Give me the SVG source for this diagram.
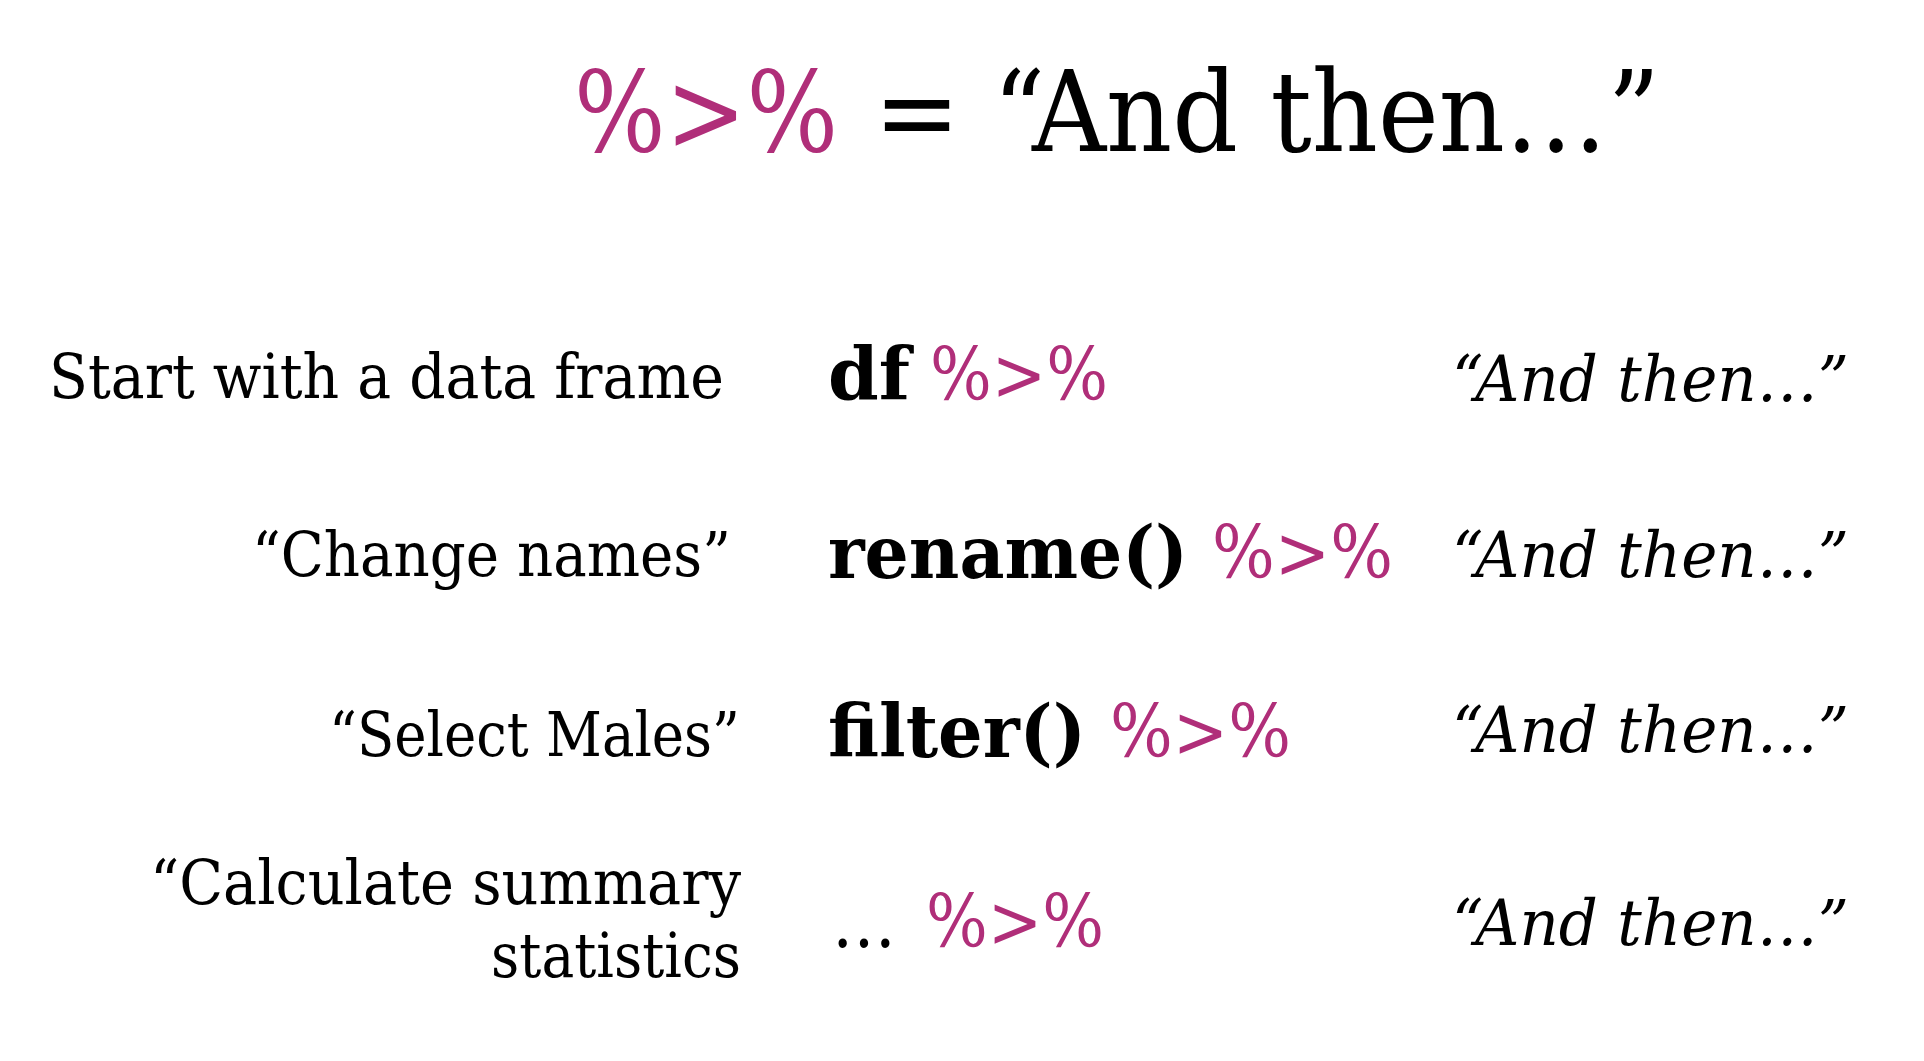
<svg xmlns="http://www.w3.org/2000/svg" width="1924" height="1061" viewBox="0 0 1924 1061">
  <style>
    text { font-family: "DejaVu Serif", "Liberation Serif", serif; fill: #000; }
    .pipe { fill: #b02e79; }
    .label { font-size: 62px; }
    .code { font-size: 72px; font-weight: bold; }
    .op { font-size: 72px; }
    .then { font-size: 64px; font-style: italic; }
    .title { font-size: 112px; }
  </style>
  <rect width="1924" height="1061" fill="#fff"/>

  <g id="title">
    <text class="title pipe" x="574" y="151" textLength="264" lengthAdjust="spacingAndGlyphs">%&gt;%</text>
    <text class="title" x="874" y="151" textLength="786" lengthAdjust="spacingAndGlyphs">= “And then…”</text>
  </g>

  <g id="row-df">
    <text class="label" x="49" y="398" textLength="675" lengthAdjust="spacingAndGlyphs">Start with a data frame</text>
    <text class="code" x="828" y="400" textLength="82" lengthAdjust="spacingAndGlyphs">df</text>
    <text class="op pipe" x="930" y="400" textLength="178" lengthAdjust="spacingAndGlyphs">%&gt;%</text>
    <text class="then" x="1452" y="401" textLength="397" lengthAdjust="spacingAndGlyphs">“And then…”</text>
  </g>

  <g id="row-rename">
    <text class="label" x="252" y="576" textLength="479" lengthAdjust="spacingAndGlyphs">“Change names”</text>
    <text class="code" x="828" y="578" textLength="360" lengthAdjust="spacingAndGlyphs">rename()</text>
    <text class="op pipe" x="1212" y="578" textLength="181" lengthAdjust="spacingAndGlyphs">%&gt;%</text>
    <text class="then" x="1452" y="577" textLength="397" lengthAdjust="spacingAndGlyphs">“And then…”</text>
  </g>

  <g id="row-filter">
    <text class="label" x="329" y="756" textLength="411" lengthAdjust="spacingAndGlyphs">“Select Males”</text>
    <text class="code" x="828" y="757" textLength="258" lengthAdjust="spacingAndGlyphs">filter()</text>
    <text class="op pipe" x="1110" y="757" textLength="181" lengthAdjust="spacingAndGlyphs">%&gt;%</text>
    <text class="then" x="1452" y="752" textLength="397" lengthAdjust="spacingAndGlyphs">“And then…”</text>
  </g>

  <g id="row-summary">
    <text class="label" x="150" y="904" textLength="591" lengthAdjust="spacingAndGlyphs">“Calculate summary</text>
    <text class="label" x="491" y="977" textLength="250" lengthAdjust="spacingAndGlyphs">statistics</text>
    <text class="op" x="832" y="947" textLength="64" lengthAdjust="spacingAndGlyphs">…</text>
    <text class="op pipe" x="926" y="947" textLength="178" lengthAdjust="spacingAndGlyphs">%&gt;%</text>
    <text class="then" x="1452" y="945" textLength="397" lengthAdjust="spacingAndGlyphs">“And then…”</text>
  </g>
</svg>
